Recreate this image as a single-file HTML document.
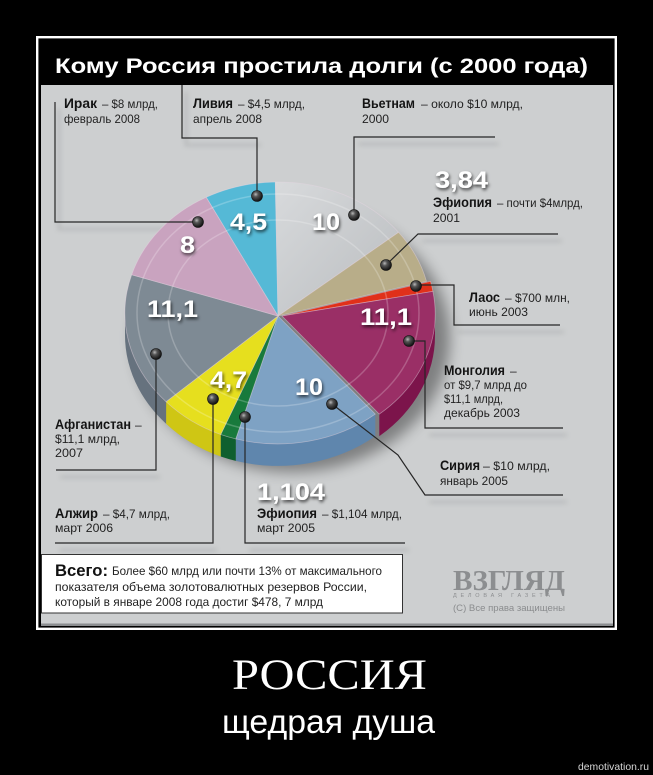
<!DOCTYPE html>
<html>
<head>
<meta charset="utf-8">
<style>
html,body{margin:0;padding:0;background:#000;}
svg{display:block;}
.b{font-family:"Liberation Sans","Noto Sans CJK SC",sans-serif;font-weight:bold;font-size:14px;fill:#141414;}
.r{font-family:"Liberation Sans","Noto Sans CJK SC",sans-serif;font-size:12px;fill:#222;}
.n{font-family:"Liberation Sans","Noto Sans CJK SC",sans-serif;font-weight:bold;font-size:24px;fill:#fff;}
</style>
</head>
<body>
<svg width="653" height="775" viewBox="0 0 653 775" xmlns="http://www.w3.org/2000/svg">
<defs>
  <radialGradient id="dot" cx="38%" cy="35%" r="65%">
    <stop offset="0" stop-color="#b8b8b8"/>
    <stop offset="0.35" stop-color="#555"/>
    <stop offset="1" stop-color="#111"/>
  </radialGradient>
  <linearGradient id="silver" x1="0" y1="0" x2="1" y2="1">
    <stop offset="0" stop-color="#d8dadc"/>
    <stop offset="1" stop-color="#b9bcbf"/>
  </linearGradient>
  <filter id="sh" x="-30%" y="-30%" width="160%" height="160%">
    <feDropShadow dx="1" dy="2" stdDeviation="1.6" flood-color="#000" flood-opacity="0.7"/>
  </filter>
  <filter id="blur6" x="-20%" y="-20%" width="140%" height="140%">
    <feGaussianBlur stdDeviation="7"/>
  </filter>
  <filter id="blur2" x="-10%" y="-50%" width="120%" height="200%">
    <feGaussianBlur stdDeviation="2.5"/>
  </filter>
</defs>

<rect x="0" y="0" width="653" height="775" fill="#000"/>
<rect x="37.2" y="37.2" width="578.6" height="591.6" fill="none" stroke="#fff" stroke-width="2.4"/>
<rect x="41" y="41" width="572" height="585" fill="#cdcfd0"/>
<rect x="41" y="623.5" width="572" height="2.5" fill="#8c8e90"/>
<rect x="41" y="41" width="572" height="44" fill="#000"/>

<text x="55" y="73" font-family="Liberation Sans, sans-serif" font-weight="bold" font-size="21" fill="#fff" textLength="533" lengthAdjust="spacingAndGlyphs">Кому Россия простила долги (с 2000 года)</text>

<!-- leader line shadows -->
<g fill="none" stroke="#9ea0a2" stroke-width="3" opacity="0.45" filter="url(#blur2)" transform="translate(4,7)">
  <path d="M55 102 V222 H198"/>
  <path d="M182 85 V138 H257"/>
  <path d="M495 137 H354"/>
  <path d="M558 234 H418"/>
  <path d="M454 325 H560"/>
  <path d="M425 428 H563"/>
  <path d="M425 495 H563"/>
  <path d="M156 470 H56"/>
  <path d="M213 543 H55"/>
  <path d="M245 543 H405"/>
</g>

<!-- pie shadow -->
<ellipse cx="292" cy="338" rx="158" ry="134" fill="#000" opacity="0.38" filter="url(#blur6)"/>

<!-- pie sides -->
<g stroke="none">
  <path d="M375.3 414.1 A153 130 0 0 1 235.8 438.9 L235.8 460.9 A153 130 0 0 0 375.3 436.1 Z" fill="#5f86ad"/>
  <path d="M235.8 438.9 A153 130 0 0 1 220.7 434.5 L220.7 456.5 A153 130 0 0 0 235.8 460.9 Z" fill="#0f5f2f"/>
  <path d="M220.7 434.5 A153 130 0 0 1 166.1 401.7 L166.1 423.7 A153 130 0 0 0 220.7 456.5 Z" fill="#cfc614"/>
  <path d="M166.1 401.7 A153 130 0 0 1 125 313 L125 335 A153 130 0 0 0 166.1 423.7 Z" fill="#66727e"/>
  <g transform="translate(4,0)">
    <path d="M431 313 A153 130 0 0 1 375.3 414.1 L375.3 436.1 A153 130 0 0 0 431 335 Z" fill="#7c144b"/>
  </g>
</g>

<!-- pie top faces -->
<g stroke="#e8d8e4" stroke-opacity="0.45" stroke-width="0.8">
  <path d="M278 316 L206.2 197.3 A153 130 0 0 1 275.3 182 Z" fill="#55b9d6"/>
  <path d="M278 316 L275.3 182 A153 130 0 0 1 398.6 232.3 Z" fill="url(#silver)"/>
  <path d="M278 316 L398.6 232.3 A153 130 0 0 1 426.5 281.3 Z" fill="#b8ad89"/>
  <path d="M278 316 L375.3 414.1 A153 130 0 0 1 235.8 438.9 Z" fill="#7ea2c4"/>
  <path d="M278 316 L235.8 438.9 A153 130 0 0 1 220.7 434.5 Z" fill="#187a3c"/>
  <path d="M278 316 L220.7 434.5 A153 130 0 0 1 166.1 401.7 Z" fill="#e6df1e"/>
  <path d="M278 316 L166.1 401.7 A153 130 0 0 1 131.7 274.7 Z" fill="#7e8a94"/>
  <path d="M278 316 L131.7 274.7 A153 130 0 0 1 206.2 197.3 Z" fill="#c9a3bf"/>
  <g transform="translate(4,0)">
    <path d="M278 316 L426.5 281.3 A153 130 0 0 1 428.9 291.4 Z" fill="#e0301a"/>
    <path d="M278 316 L428.9 291.4 A153 130 0 0 1 375.3 414.1 Z" fill="#9a2f66"/>
  </g>
</g>
<!-- coin texture rings -->
<g fill="none" stroke="#fff" stroke-opacity="0.22" stroke-width="1.5">
  <ellipse cx="278" cy="313" rx="141" ry="119"/>
  <ellipse cx="278" cy="313" rx="110" ry="93"/>
</g>

<!-- leader lines -->
<g fill="none" stroke="#262626" stroke-width="1.2">
  <path d="M55 102 V222 H198"/>
  <path d="M182 85 V138 H257 V196"/>
  <path d="M495 137 H354 V215"/>
  <path d="M558 234 H418 L386 265"/>
  <path d="M416 285 H454 V325 H560"/>
  <path d="M409 341 H425 V428 H563"/>
  <path d="M332 404 L398 455 L425 495 H563"/>
  <path d="M156 354 V470 H56"/>
  <path d="M213 399 V543 H55"/>
  <path d="M245 417 V543 H405"/>
</g>

<!-- dots -->
<g fill="url(#dot)" stroke="#111" stroke-width="0.6">
  <circle cx="257" cy="196" r="5.5"/>
  <circle cx="354" cy="215" r="5.5"/>
  <circle cx="198" cy="222" r="5.5"/>
  <circle cx="386" cy="265" r="5.5"/>
  <circle cx="416" cy="286" r="5.5"/>
  <circle cx="409" cy="341" r="5.5"/>
  <circle cx="156" cy="354" r="5.5"/>
  <circle cx="213" cy="399" r="5.5"/>
  <circle cx="245" cy="417" r="5.5"/>
  <circle cx="332" cy="404" r="5.5"/>
</g>

<!-- numbers -->
<g filter="url(#sh)">
  <text class="n" x="230" y="230" textLength="37" lengthAdjust="spacingAndGlyphs">4,5</text>
  <text class="n" x="312" y="230" textLength="28" lengthAdjust="spacingAndGlyphs">10</text>
  <text class="n" x="180" y="253" textLength="15" lengthAdjust="spacingAndGlyphs">8</text>
  <text class="n" x="147" y="317" textLength="51" lengthAdjust="spacingAndGlyphs">11,1</text>
  <text class="n" x="360" y="325" textLength="52" lengthAdjust="spacingAndGlyphs">11,1</text>
  <text class="n" x="210" y="388" textLength="37" lengthAdjust="spacingAndGlyphs">4,7</text>
  <text class="n" x="295" y="395" textLength="28" lengthAdjust="spacingAndGlyphs">10</text>
  <text class="n" x="435" y="188" textLength="53" lengthAdjust="spacingAndGlyphs">3,84</text>
  <text class="n" x="257" y="500" textLength="68" lengthAdjust="spacingAndGlyphs">1,104</text>
</g>

<!-- labels -->
<text class="b" x="64" y="108" textLength="33" lengthAdjust="spacingAndGlyphs">Ирак</text>
<text class="r" x="102" y="108" textLength="56" lengthAdjust="spacingAndGlyphs">– $8 млрд,</text>
<text class="r" x="64" y="123" textLength="76" lengthAdjust="spacingAndGlyphs">февраль 2008</text>

<text class="b" x="193" y="108" textLength="40" lengthAdjust="spacingAndGlyphs">Ливия</text>
<text class="r" x="238" y="108" textLength="67" lengthAdjust="spacingAndGlyphs">– $4,5 млрд,</text>
<text class="r" x="193" y="123" textLength="69" lengthAdjust="spacingAndGlyphs">апрель 2008</text>

<text class="b" x="362" y="108" textLength="53" lengthAdjust="spacingAndGlyphs">Вьетнам</text>
<text class="r" x="421" y="108" textLength="102" lengthAdjust="spacingAndGlyphs">– около $10 млрд,</text>
<text class="r" x="362" y="123" textLength="27" lengthAdjust="spacingAndGlyphs">2000</text>

<text class="b" x="433" y="207" textLength="59" lengthAdjust="spacingAndGlyphs">Эфиопия</text>
<text class="r" x="497" y="207" textLength="86" lengthAdjust="spacingAndGlyphs">– почти $4млрд,</text>
<text class="r" x="433" y="222" textLength="27" lengthAdjust="spacingAndGlyphs">2001</text>

<text class="b" x="469" y="302" textLength="31" lengthAdjust="spacingAndGlyphs">Лаос</text>
<text class="r" x="505" y="302" textLength="65" lengthAdjust="spacingAndGlyphs">– $700 млн,</text>
<text class="r" x="469" y="316" textLength="59" lengthAdjust="spacingAndGlyphs">июнь 2003</text>

<text class="b" x="444" y="375" textLength="61" lengthAdjust="spacingAndGlyphs">Монголия</text>
<text class="r" x="510" y="375">–</text>
<text class="r" x="444" y="389" textLength="83" lengthAdjust="spacingAndGlyphs">от $9,7 млрд до</text>
<text class="r" x="444" y="403" textLength="59" lengthAdjust="spacingAndGlyphs">$11,1 млрд,</text>
<text class="r" x="444" y="417" textLength="76" lengthAdjust="spacingAndGlyphs">декабрь 2003</text>

<text class="b" x="440" y="470" textLength="40" lengthAdjust="spacingAndGlyphs">Сирия</text>
<text class="r" x="483" y="470" textLength="67" lengthAdjust="spacingAndGlyphs">– $10 млрд,</text>
<text class="r" x="440" y="485" textLength="68" lengthAdjust="spacingAndGlyphs">январь 2005</text>

<text class="b" x="55" y="429" textLength="76" lengthAdjust="spacingAndGlyphs">Афганистан</text>
<text class="r" x="135" y="429">–</text>
<text class="r" x="55" y="443" textLength="65" lengthAdjust="spacingAndGlyphs">$11,1 млрд,</text>
<text class="r" x="55" y="457" textLength="28" lengthAdjust="spacingAndGlyphs">2007</text>

<text class="b" x="55" y="518" textLength="43" lengthAdjust="spacingAndGlyphs">Алжир</text>
<text class="r" x="103" y="518" textLength="67" lengthAdjust="spacingAndGlyphs">– $4,7 млрд,</text>
<text class="r" x="55" y="532" textLength="58" lengthAdjust="spacingAndGlyphs">март 2006</text>

<text class="b" x="257" y="518" textLength="60" lengthAdjust="spacingAndGlyphs">Эфиопия</text>
<text class="r" x="322" y="518" textLength="80" lengthAdjust="spacingAndGlyphs">– $1,104 млрд,</text>
<text class="r" x="257" y="532" textLength="58" lengthAdjust="spacingAndGlyphs">март 2005</text>

<!-- total box -->
<rect x="41.5" y="554.5" width="361" height="58.5" fill="#fff" stroke="#333" stroke-width="1"/>
<text x="55" y="576" font-family="Liberation Sans, sans-serif" font-weight="bold" font-size="17" fill="#111" textLength="53" lengthAdjust="spacingAndGlyphs">Всего:</text>
<text class="r" x="112" y="575" textLength="270" lengthAdjust="spacingAndGlyphs">Более $60 млрд или почти 13% от максимального</text>
<text class="r" x="55" y="591" textLength="312" lengthAdjust="spacingAndGlyphs">показателя объема золотовалютных резервов России,</text>
<text class="r" x="55" y="606" textLength="268" lengthAdjust="spacingAndGlyphs">который в январе 2008 года достиг $478, 7 млрд</text>

<!-- logo -->
<text x="453" y="590" font-family="Liberation Serif, serif" font-weight="bold" font-size="29" fill="#8c8e90" textLength="112" lengthAdjust="spacingAndGlyphs">ВЗГЛЯД</text>
<text x="453" y="597" font-family="Liberation Sans, sans-serif" font-size="5.5" fill="#8c8e90" textLength="97" lengthAdjust="spacing">ДЕЛОВАЯ  ГАЗЕТА</text>
<text x="453" y="611" font-family="Liberation Sans, sans-serif" font-size="9.5" fill="#8a8c8e" textLength="112" lengthAdjust="spacingAndGlyphs">(С) Все права защищены</text>

<!-- demotivator caption -->
<text x="232" y="689" font-family="Liberation Serif, serif" font-size="43" fill="#fff" textLength="195" lengthAdjust="spacingAndGlyphs">РОССИЯ</text>
<text x="222" y="733" font-family="Liberation Sans, sans-serif" font-size="33" fill="#fff" textLength="213" lengthAdjust="spacingAndGlyphs">щедрая душа</text>
<text x="578" y="770" font-family="Liberation Sans, sans-serif" font-size="10.5" fill="#d8d8d8" textLength="71" lengthAdjust="spacingAndGlyphs">demotivation.ru</text>
</svg>
</body>
</html>
